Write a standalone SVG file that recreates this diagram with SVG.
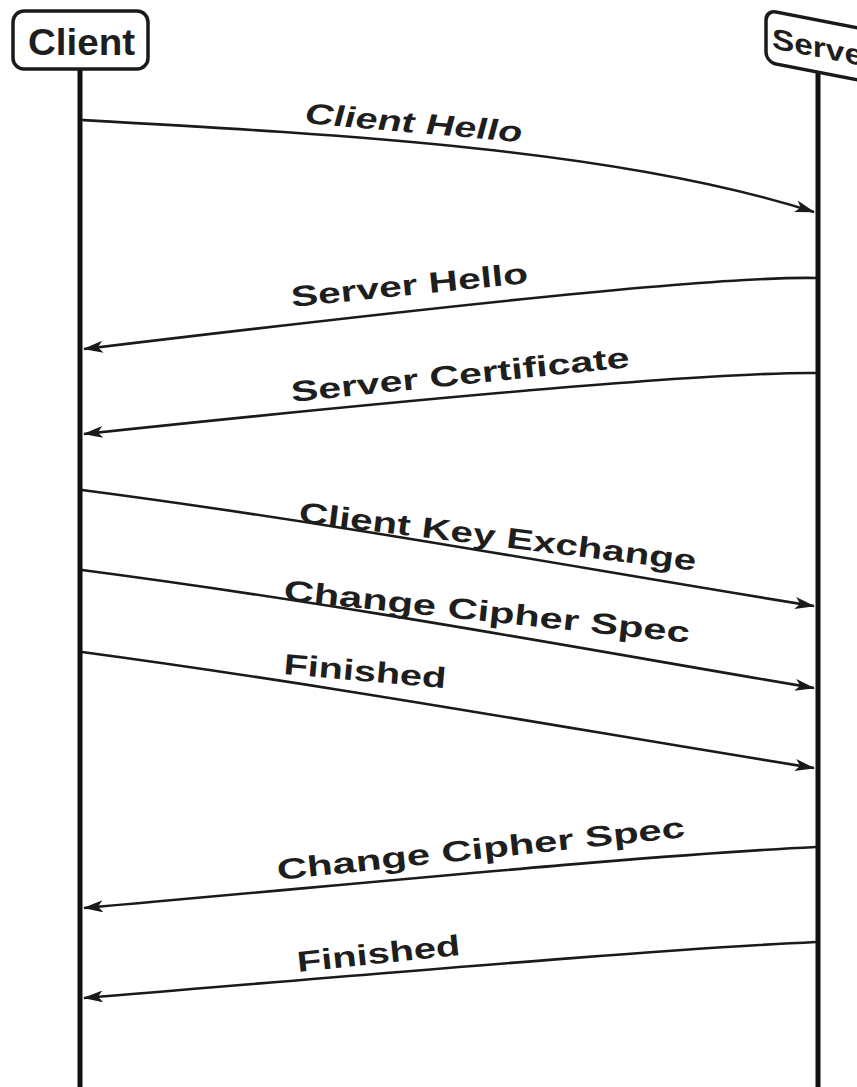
<svg xmlns="http://www.w3.org/2000/svg" width="857" height="1087" viewBox="0 0 857 1087">
<style>
.life{stroke:#111;stroke-width:5;fill:none}
.msg{stroke:#1a1a1a;stroke-width:2.6;fill:none;marker-end:url(#ah)}
.lbl{font-family:"Liberation Sans",Arial,sans-serif;font-size:29px;font-weight:bold;fill:#1e1e1e}
.box{fill:#fff;stroke:#1a1a1a;stroke-width:3.5}
.name{font-family:"Liberation Sans",Arial,sans-serif;font-weight:bold;fill:#1e1e1e}
</style>
<defs>
<marker id="ah" markerWidth="20" markerHeight="12" refX="19" refY="6" orient="auto" markerUnits="userSpaceOnUse">
<path d="M0,0 L20,6 L0,12 L5,6 Z" fill="#1a1a1a"/>
</marker>
</defs>
<rect width="857" height="1087" fill="#fff"/>
<g id="client">
<line class="life" x1="80" y1="68" x2="80" y2="1087"/>
<rect class="box" x="13" y="11" width="135" height="58" rx="11"/>
<text class="name" x="28" y="55" font-size="36" textLength="107" lengthAdjust="spacingAndGlyphs">Client</text>
</g>
<g id="server">
<line class="life" x1="818" y1="72" x2="818" y2="1087"/>
<g transform="translate(766,10) skewY(11)">
<rect class="box" x="0" y="0" width="112" height="52" rx="10"/>
<text class="name" x="6" y="37" font-size="29" textLength="104" lengthAdjust="spacingAndGlyphs">Server</text>
</g>
</g>
<g id="connectors">
<path class="msg" d="M82,120 C350,135 620,150 814,212"/>
<path class="msg" d="M816,278 C720,276 450,305 84,349"/>
<path class="msg" d="M816,373 C720,372 450,395 84,434"/>
<path class="msg" d="M82,490 C350,525 600,572 814,606"/>
<path class="msg" d="M82,570 C350,605 600,652 814,688"/>
<path class="msg" d="M82,652 C350,688 600,734 814,768"/>
<path class="msg" d="M816,847 C650,855 400,880 84,908"/>
<path class="msg" d="M816,942 C650,950 400,972 84,998"/>
</g>
<g id="labels">
<text class="lbl" transform="translate(303,123) rotate(5) skewX(-10)" textLength="218" lengthAdjust="spacingAndGlyphs">Client Hello</text>
<text class="lbl" transform="translate(292,307) rotate(-5.8)" textLength="238" lengthAdjust="spacingAndGlyphs">Server Hello</text>
<text class="lbl" transform="translate(292,402) rotate(-5.9)" textLength="340" lengthAdjust="spacingAndGlyphs">Server Certificate</text>
<text class="lbl" transform="translate(298,522) rotate(7)" textLength="400" lengthAdjust="spacingAndGlyphs">Client Key Exchange</text>
<text class="lbl" transform="translate(283,600) rotate(6)" textLength="408" lengthAdjust="spacingAndGlyphs">Change Cipher Spec</text>
<text class="lbl" transform="translate(283,674) rotate(5)" textLength="163" lengthAdjust="spacingAndGlyphs">Finished</text>
<text class="lbl" transform="translate(278,880) rotate(-6)" textLength="410" lengthAdjust="spacingAndGlyphs">Change Cipher Spec</text>
<text class="lbl" transform="translate(298,972) rotate(-6)" textLength="164" lengthAdjust="spacingAndGlyphs">Finished</text>
</g>
</svg>
